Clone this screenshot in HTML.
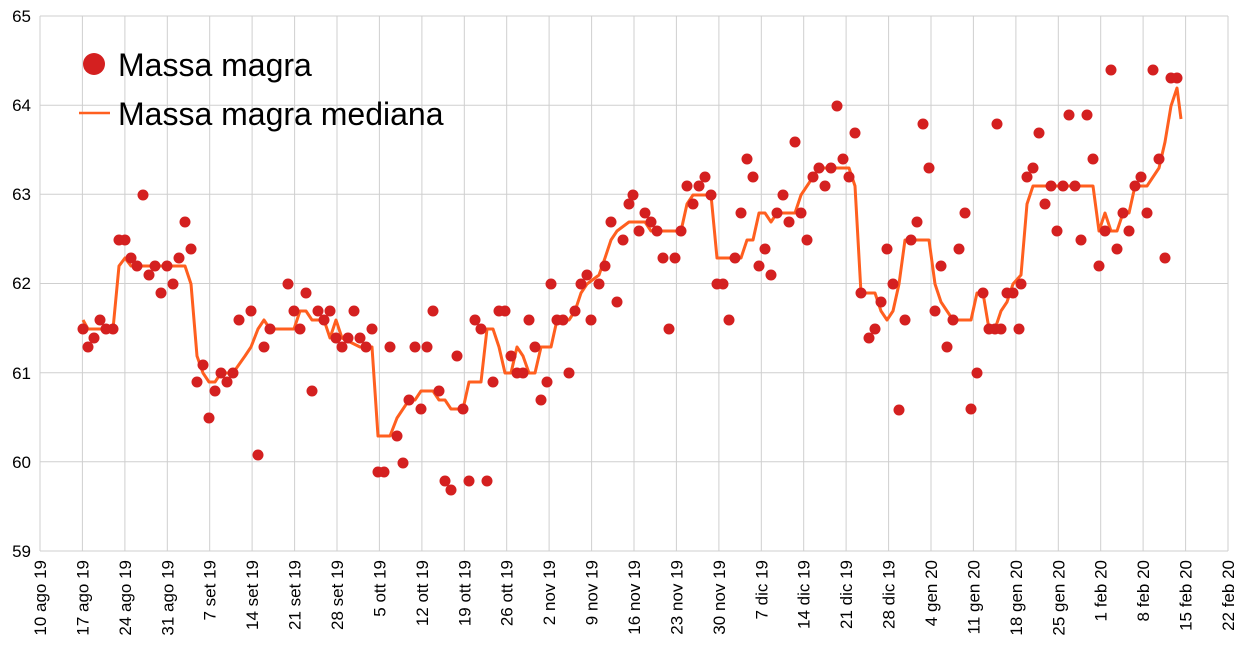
<!DOCTYPE html>
<html><head><meta charset="utf-8"><style>body{margin:0;background:#fff}svg{display:block}text{font-family:"Liberation Sans",sans-serif;fill:#000}</style></head><body>
<svg width="1248" height="660" xmlns="http://www.w3.org/2000/svg">
<path stroke="#cfcfcf" stroke-width="1" fill="none" d="M40 16H1228M40 105.2H1228M40 194.3H1228M40 283.5H1228M40 372.7H1228M40 461.8H1228M40 551H1228
M40 16V551M82.4 16V551M124.9 16V551M167.3 16V551M209.7 16V551M252.1 16V551M294.6 16V551M337 16V551M379.4 16V551M421.9 16V551M464.3 16V551M506.7 16V551M549.1 16V551M591.6 16V551M634 16V551M676.4 16V551M718.9 16V551M761.3 16V551M803.7 16V551M846.1 16V551M888.6 16V551M931 16V551M973.4 16V551M1015.9 16V551M1058.3 16V551M1100.7 16V551M1143.1 16V551M1185.6 16V551M1228 16V551"/>
<g font-size="17" text-anchor="end">
<text x="31" y="22">65</text><text x="31" y="111">64</text><text x="31" y="200">63</text><text x="31" y="289">62</text><text x="31" y="379">61</text><text x="31" y="468">60</text><text x="31" y="557">59</text>
<text transform="translate(46,560) rotate(-90)">10 ago 19</text>
<text transform="translate(88.4,560) rotate(-90)">17 ago 19</text>
<text transform="translate(130.9,560) rotate(-90)">24 ago 19</text>
<text transform="translate(173.3,560) rotate(-90)">31 ago 19</text>
<text transform="translate(215.7,560) rotate(-90)">7 set 19</text>
<text transform="translate(258.1,560) rotate(-90)">14 set 19</text>
<text transform="translate(300.6,560) rotate(-90)">21 set 19</text>
<text transform="translate(343,560) rotate(-90)">28 set 19</text>
<text transform="translate(385.4,560) rotate(-90)">5 ott 19</text>
<text transform="translate(427.9,560) rotate(-90)">12 ott 19</text>
<text transform="translate(470.3,560) rotate(-90)">19 ott 19</text>
<text transform="translate(512.7,560) rotate(-90)">26 ott 19</text>
<text transform="translate(555.1,560) rotate(-90)">2 nov 19</text>
<text transform="translate(597.6,560) rotate(-90)">9 nov 19</text>
<text transform="translate(640,560) rotate(-90)">16 nov 19</text>
<text transform="translate(682.4,560) rotate(-90)">23 nov 19</text>
<text transform="translate(724.9,560) rotate(-90)">30 nov 19</text>
<text transform="translate(767.3,560) rotate(-90)">7 dic 19</text>
<text transform="translate(809.7,560) rotate(-90)">14 dic 19</text>
<text transform="translate(852.1,560) rotate(-90)">21 dic 19</text>
<text transform="translate(894.6,560) rotate(-90)">28 dic 19</text>
<text transform="translate(937,560) rotate(-90)">4 gen 20</text>
<text transform="translate(979.4,560) rotate(-90)">11 gen 20</text>
<text transform="translate(1021.9,560) rotate(-90)">18 gen 20</text>
<text transform="translate(1064.3,560) rotate(-90)">25 gen 20</text>
<text transform="translate(1106.7,560) rotate(-90)">1 feb 20</text>
<text transform="translate(1149.1,560) rotate(-90)">8 feb 20</text>
<text transform="translate(1191.6,560) rotate(-90)">15 feb 20</text>
<text transform="translate(1234,560) rotate(-90)">22 feb 20</text>
</g>
<polyline fill="none" stroke="#ff5f1f" stroke-width="3" stroke-linejoin="round" points="83,320 88,329 113,329 119,266 125,258 131,266 185,266 191,284 197,356 203,373 209,382 215,382 221,373 233,373 245,356 251,347 258,329 264,320 270,329 294,329 300,311 306,311 312,320 324,320 330,338 336,320 342,338 360,347 372,347 378,436 390,436 397,418 403,409 409,400 415,400 421,391 433,391 439,400 445,400 451,409 463,409 469,382 481,382 487,329 493,329 499,347 505,373 511,373 517,347 523,356 529,373 535,373 541,347 551,347 557,320 569,320 575,311 581,293 587,284 599,275 605,258 611,240 617,231 629,222 645,222 651,231 681,231 687,204 693,195 711,195 717,258 741,258 747,240 753,240 759,213 765,213 771,222 777,213 795,213 801,195 807,186 813,177 819,168 849,168 855,186 861,293 875,293 881,311 887,320 893,311 899,284 905,240 929,240 935,284 941,302 947,311 953,320 971,320 977,293 983,293 989,329 995,329 1001,311 1007,302 1013,284 1021,275 1027,204 1033,186 1093,186 1099,231 1105,213 1111,231 1117,231 1123,213 1129,213 1135,186 1147,186 1153,177 1159,168 1165,142 1171,106 1177,88 1181,119"/>
<g fill="#d42020">
<circle cx="83" cy="329" r="5.5"/><circle cx="88" cy="347" r="5.5"/><circle cx="94" cy="338" r="5.5"/><circle cx="100" cy="320" r="5.5"/><circle cx="106" cy="329" r="5.5"/><circle cx="113" cy="329" r="5.5"/><circle cx="119" cy="240" r="5.5"/><circle cx="125" cy="240" r="5.5"/><circle cx="131" cy="258" r="5.5"/><circle cx="137" cy="266" r="5.5"/><circle cx="143" cy="195" r="5.5"/><circle cx="149" cy="275" r="5.5"/><circle cx="155" cy="266" r="5.5"/><circle cx="161" cy="293" r="5.5"/><circle cx="167" cy="266" r="5.5"/><circle cx="173" cy="284" r="5.5"/><circle cx="179" cy="258" r="5.5"/><circle cx="185" cy="222" r="5.5"/><circle cx="191" cy="249" r="5.5"/><circle cx="197" cy="382" r="5.5"/><circle cx="203" cy="365" r="5.5"/><circle cx="209" cy="418" r="5.5"/><circle cx="215" cy="391" r="5.5"/><circle cx="221" cy="373" r="5.5"/><circle cx="227" cy="382" r="5.5"/><circle cx="233" cy="373" r="5.5"/><circle cx="239" cy="320" r="5.5"/><circle cx="251" cy="311" r="5.5"/><circle cx="258" cy="455" r="5.5"/><circle cx="264" cy="347" r="5.5"/><circle cx="270" cy="329" r="5.5"/><circle cx="288" cy="284" r="5.5"/><circle cx="294" cy="311" r="5.5"/><circle cx="300" cy="329" r="5.5"/><circle cx="306" cy="293" r="5.5"/><circle cx="312" cy="391" r="5.5"/><circle cx="318" cy="311" r="5.5"/><circle cx="324" cy="320" r="5.5"/><circle cx="330" cy="311" r="5.5"/><circle cx="336" cy="338" r="5.5"/><circle cx="342" cy="347" r="5.5"/><circle cx="348" cy="338" r="5.5"/><circle cx="354" cy="311" r="5.5"/><circle cx="360" cy="338" r="5.5"/><circle cx="366" cy="347" r="5.5"/><circle cx="372" cy="329" r="5.5"/><circle cx="378" cy="472" r="5.5"/><circle cx="384" cy="472" r="5.5"/><circle cx="390" cy="347" r="5.5"/><circle cx="397" cy="436" r="5.5"/><circle cx="403" cy="463" r="5.5"/><circle cx="409" cy="400" r="5.5"/><circle cx="415" cy="347" r="5.5"/><circle cx="421" cy="409" r="5.5"/><circle cx="427" cy="347" r="5.5"/><circle cx="433" cy="311" r="5.5"/><circle cx="439" cy="391" r="5.5"/><circle cx="445" cy="481" r="5.5"/><circle cx="451" cy="490" r="5.5"/><circle cx="457" cy="356" r="5.5"/><circle cx="463" cy="409" r="5.5"/><circle cx="469" cy="481" r="5.5"/><circle cx="475" cy="320" r="5.5"/><circle cx="481" cy="329" r="5.5"/><circle cx="487" cy="481" r="5.5"/><circle cx="493" cy="382" r="5.5"/><circle cx="499" cy="311" r="5.5"/><circle cx="505" cy="311" r="5.5"/><circle cx="511" cy="356" r="5.5"/><circle cx="517" cy="373" r="5.5"/><circle cx="523" cy="373" r="5.5"/><circle cx="529" cy="320" r="5.5"/><circle cx="535" cy="347" r="5.5"/><circle cx="541" cy="400" r="5.5"/><circle cx="547" cy="382" r="5.5"/><circle cx="551" cy="284" r="5.5"/><circle cx="557" cy="320" r="5.5"/><circle cx="563" cy="320" r="5.5"/><circle cx="569" cy="373" r="5.5"/><circle cx="575" cy="311" r="5.5"/><circle cx="581" cy="284" r="5.5"/><circle cx="587" cy="275" r="5.5"/><circle cx="591" cy="320" r="5.5"/><circle cx="599" cy="284" r="5.5"/><circle cx="605" cy="266" r="5.5"/><circle cx="611" cy="222" r="5.5"/><circle cx="617" cy="302" r="5.5"/><circle cx="623" cy="240" r="5.5"/><circle cx="629" cy="204" r="5.5"/><circle cx="633" cy="195" r="5.5"/><circle cx="639" cy="231" r="5.5"/><circle cx="645" cy="213" r="5.5"/><circle cx="651" cy="222" r="5.5"/><circle cx="657" cy="231" r="5.5"/><circle cx="663" cy="258" r="5.5"/><circle cx="669" cy="329" r="5.5"/><circle cx="675" cy="258" r="5.5"/><circle cx="681" cy="231" r="5.5"/><circle cx="687" cy="186" r="5.5"/><circle cx="693" cy="204" r="5.5"/><circle cx="699" cy="186" r="5.5"/><circle cx="705" cy="177" r="5.5"/><circle cx="711" cy="195" r="5.5"/><circle cx="717" cy="284" r="5.5"/><circle cx="723" cy="284" r="5.5"/><circle cx="729" cy="320" r="5.5"/><circle cx="735" cy="258" r="5.5"/><circle cx="741" cy="213" r="5.5"/><circle cx="747" cy="159" r="5.5"/><circle cx="753" cy="177" r="5.5"/><circle cx="759" cy="266" r="5.5"/><circle cx="765" cy="249" r="5.5"/><circle cx="771" cy="275" r="5.5"/><circle cx="777" cy="213" r="5.5"/><circle cx="783" cy="195" r="5.5"/><circle cx="789" cy="222" r="5.5"/><circle cx="795" cy="142" r="5.5"/><circle cx="801" cy="213" r="5.5"/><circle cx="807" cy="240" r="5.5"/><circle cx="813" cy="177" r="5.5"/><circle cx="819" cy="168" r="5.5"/><circle cx="825" cy="186" r="5.5"/><circle cx="831" cy="168" r="5.5"/><circle cx="837" cy="106" r="5.5"/><circle cx="843" cy="159" r="5.5"/><circle cx="849" cy="177" r="5.5"/><circle cx="855" cy="133" r="5.5"/><circle cx="861" cy="293" r="5.5"/><circle cx="869" cy="338" r="5.5"/><circle cx="875" cy="329" r="5.5"/><circle cx="881" cy="302" r="5.5"/><circle cx="887" cy="249" r="5.5"/><circle cx="893" cy="284" r="5.5"/><circle cx="899" cy="410" r="5.5"/><circle cx="905" cy="320" r="5.5"/><circle cx="911" cy="240" r="5.5"/><circle cx="917" cy="222" r="5.5"/><circle cx="923" cy="124" r="5.5"/><circle cx="929" cy="168" r="5.5"/><circle cx="935" cy="311" r="5.5"/><circle cx="941" cy="266" r="5.5"/><circle cx="947" cy="347" r="5.5"/><circle cx="953" cy="320" r="5.5"/><circle cx="959" cy="249" r="5.5"/><circle cx="965" cy="213" r="5.5"/><circle cx="971" cy="409" r="5.5"/><circle cx="977" cy="373" r="5.5"/><circle cx="983" cy="293" r="5.5"/><circle cx="989" cy="329" r="5.5"/><circle cx="995" cy="329" r="5.5"/><circle cx="997" cy="124" r="5.5"/><circle cx="1001" cy="329" r="5.5"/><circle cx="1007" cy="293" r="5.5"/><circle cx="1013" cy="293" r="5.5"/><circle cx="1019" cy="329" r="5.5"/><circle cx="1021" cy="284" r="5.5"/><circle cx="1027" cy="177" r="5.5"/><circle cx="1033" cy="168" r="5.5"/><circle cx="1039" cy="133" r="5.5"/><circle cx="1045" cy="204" r="5.5"/><circle cx="1051" cy="186" r="5.5"/><circle cx="1057" cy="231" r="5.5"/><circle cx="1063" cy="186" r="5.5"/><circle cx="1069" cy="115" r="5.5"/><circle cx="1075" cy="186" r="5.5"/><circle cx="1081" cy="240" r="5.5"/><circle cx="1087" cy="115" r="5.5"/><circle cx="1093" cy="159" r="5.5"/><circle cx="1099" cy="266" r="5.5"/><circle cx="1105" cy="231" r="5.5"/><circle cx="1111" cy="70" r="5.5"/><circle cx="1117" cy="249" r="5.5"/><circle cx="1123" cy="213" r="5.5"/><circle cx="1129" cy="231" r="5.5"/><circle cx="1135" cy="186" r="5.5"/><circle cx="1141" cy="177" r="5.5"/><circle cx="1147" cy="213" r="5.5"/><circle cx="1153" cy="70" r="5.5"/><circle cx="1159" cy="159" r="5.5"/><circle cx="1165" cy="258" r="5.5"/><circle cx="1171" cy="78" r="5.5"/><circle cx="1177" cy="78" r="5.5"/>
</g>
<circle cx="94" cy="64" r="11" fill="#d42020"/>
<text x="118" y="76" font-size="32">Massa magra</text>
<line x1="79" y1="113" x2="110" y2="113" stroke="#ff5f1f" stroke-width="2.5"/>
<text x="118" y="125" font-size="32">Massa magra mediana</text>
</svg></body></html>
